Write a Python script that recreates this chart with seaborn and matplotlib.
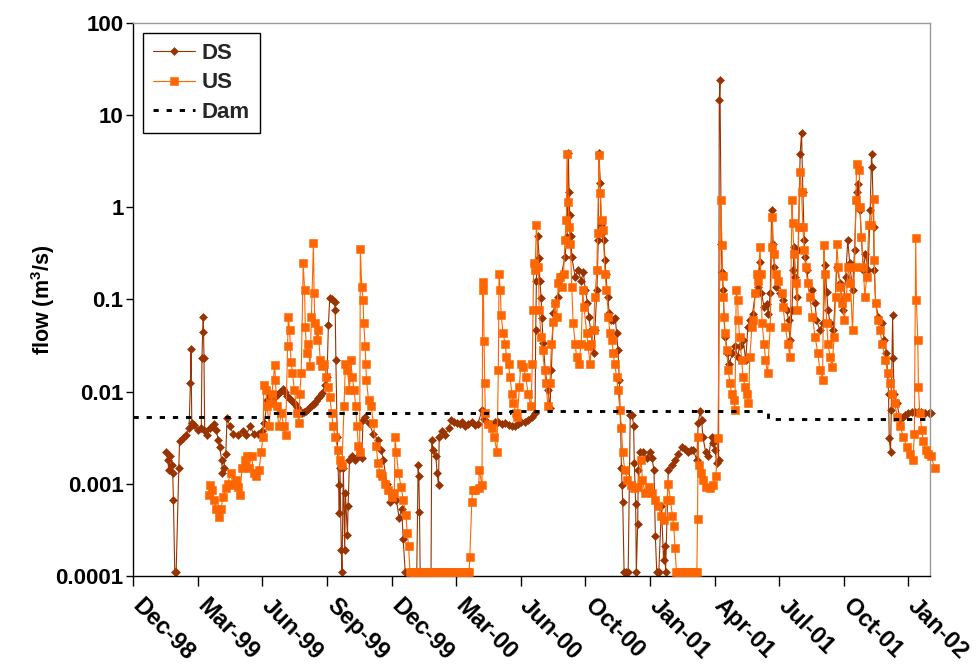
import pandas as pd
import matplotlib
matplotlib.use("Agg")
import matplotlib.pyplot as plt
import matplotlib.dates as mdates
from matplotlib.ticker import FixedLocator, FixedFormatter, NullLocator
from matplotlib.transforms import ScaledTranslation
import seaborn as sns

# ---- data -------------------------------------------------------------
# day offsets are counted from START; flows are in m3/s
START = pd.Timestamp("1998-12-07")
TICK_STEP_DAYS = 95
N_TICKS = 13
AXIS_END_DAY = 1172

DS_READINGS = [
    (48, 0.0022), (51, 0.0018), (52, 0.0014), (54, 0.0020), (57, 0.0016), (58, 0.0013), (59, 0.00067),
    (61, 0.00011), (63, 0.00011), (67, 0.0015), (68, 0.0029), (73, 0.0031), (78, 0.0034), (82, 0.0040),
    (84, 0.0125), (85, 0.029), (86, 0.0046), (90, 0.0043), (95, 0.0038), (100, 0.0040), (101, 0.023),
    (102, 0.044), (103, 0.065), (104, 0.023), (105, 0.0037), (108, 0.0034), (113, 0.0040), (118, 0.0045),
    (122, 0.0038), (125, 0.0030), (127, 0.0025), (130, 0.0018), (131, 0.0013), (133, 0.0015), (136, 0.0021),
    (138, 0.0052), (142, 0.0042), (147, 0.0035), (154, 0.0034), (161, 0.0037), (166, 0.0034), (172, 0.0042),
    (177, 0.0035), (183, 0.0035), (190, 0.0037), (193, 0.0046), (197, 0.0081), (201, 0.0092), (205, 0.0090),
    (209, 0.0087), (213, 0.0094), (216, 0.0099), (220, 0.0107), (223, 0.0098), (226, 0.0090), (229, 0.0085),
    (232, 0.0081), (235, 0.0077), (238, 0.0074), (241, 0.0068), (244, 0.0063), (248, 0.0059), (251, 0.0060),
    (254, 0.0062), (257, 0.0065), (260, 0.0068), (263, 0.0071), (266, 0.0074), (269, 0.0080), (272, 0.0085),
    (275, 0.0090), (278, 0.0096), (282, 0.0118), (285, 0.0145), (287, 0.053), (289, 0.103), (293, 0.101),
    (296, 0.094), (297, 0.077), (298, 0.022), (300, 0.0032), (302, 0.00097), (303, 0.00048), (304, 0.0015),
    (306, 0.00019), (307, 0.00011), (309, 0.0015), (311, 0.00019), (312, 0.00079), (315, 0.00028),
    (316, 0.00057), (318, 0.0018), (321, 0.0020), (326, 0.0018), (331, 0.0020), (336, 0.0019), (338, 0.0049),
    (341, 0.0053), (346, 0.0046), (353, 0.0035), (360, 0.0030), (365, 0.0023), (368, 0.0018), (373, 0.0010),
    (378, 0.00064), (382, 0.00072), (387, 0.00067), (391, 0.00043), (395, 0.00053), (397, 0.00025),
    (400, 0.00011), (404, 0.00011), (408, 0.00011), (413, 0.00011), (417, 0.00011), (419, 0.0016),
    (420, 0.0012), (421, 0.00050), (422, 0.00011), (426, 0.00011), (430, 0.00011), (435, 0.00011),
    (438, 0.00011), (439, 0.0030), (441, 0.0023), (445, 0.0020), (447, 0.0013), (449, 0.00097), (450, 0.0032),
    (454, 0.0037), (459, 0.0034), (464, 0.0040), (468, 0.0049), (472, 0.0047), (476, 0.0046), (480, 0.0045),
    (483, 0.0047), (488, 0.0042), (492, 0.0045), (498, 0.0047), (503, 0.0043), (507, 0.0045), (513, 0.0063),
    (516, 0.0051), (522, 0.0046), (528, 0.0043), (532, 0.0047), (537, 0.0047), (542, 0.0045), (547, 0.0046),
    (553, 0.0043), (557, 0.0042), (561, 0.0042), (566, 0.0045), (571, 0.0047), (576, 0.0047), (581, 0.0049),
    (586, 0.0053), (591, 0.0058), (592, 0.046), (593, 0.16), (595, 0.485), (597, 0.28), (598, 0.16),
    (600, 0.103), (601, 0.063), (603, 0.034), (606, 0.017), (610, 0.0103), (613, 0.0066), (615, 0.017),
    (618, 0.071), (620, 0.091), (625, 0.106), (630, 0.19), (635, 0.29), (638, 0.47), (640, 3.85), (641, 1.45),
    (642, 0.82), (644, 0.485), (645, 0.29), (650, 0.174), (654, 0.21), (659, 0.16), (662, 0.20), (665, 0.126),
    (668, 0.091), (670, 0.064), (673, 0.046), (677, 0.026), (679, 0.046), (682, 0.126), (684, 0.44),
    (685, 3.85), (687, 1.82), (688, 0.64), (690, 0.52), (692, 0.44), (694, 0.27), (695, 0.19), (698, 0.106),
    (700, 0.071), (703, 0.060), (706, 0.060), (709, 0.063), (711, 0.043), (713, 0.028), (715, 0.0135),
    (716, 0.0063), (717, 0.0041), (718, 0.0015), (719, 0.00097), (720, 0.00063), (722, 0.00011),
    (725, 0.00011), (728, 0.00011), (731, 0.0056), (734, 0.0056), (736, 0.0042), (737, 0.0017), (739, 0.00060),
    (740, 0.00011), (742, 0.00037), (743, 0.0014), (745, 0.0022), (750, 0.0022), (755, 0.0019), (760, 0.0022),
    (763, 0.0019), (766, 0.0014), (768, 0.00027), (770, 0.00011), (773, 0.00011), (777, 0.00057),
    (780, 0.00015), (782, 0.00021), (783, 0.00011), (787, 0.0014), (792, 0.0016), (797, 0.0018), (802, 0.0021),
    (807, 0.0025), (812, 0.0024), (816, 0.0022), (820, 0.0023), (824, 0.0023), (829, 0.0018), (831, 0.0046),
    (834, 0.0061), (836, 0.0049), (838, 0.0032), (842, 0.0022), (846, 0.0020), (851, 0.0032), (853, 0.0028),
    (856, 0.0023), (858, 0.0017), (861, 0.0018), (862, 14.4), (863, 23.8), (865, 0.40), (866, 0.20),
    (868, 0.126), (869, 0.065), (871, 0.039), (874, 0.026), (877, 0.020), (881, 0.026), (885, 0.031),
    (889, 0.024), (892, 0.031), (897, 0.036), (901, 0.022), (904, 0.050), (907, 0.060), (911, 0.070),
    (915, 0.116), (919, 0.137), (922, 0.255), (924, 0.116), (928, 0.083), (932, 0.090), (934, 0.070),
    (937, 0.116), (939, 0.93), (941, 0.40), (943, 0.225), (946, 0.137), (951, 0.116), (956, 0.098),
    (961, 0.077), (964, 0.060), (966, 0.036), (969, 0.077), (971, 0.21), (972, 0.37), (974, 0.176),
    (976, 0.107), (978, 0.34), (981, 3.8), (983, 6.3), (985, 1.47), (987, 0.44), (988, 0.29), (991, 0.21),
    (993, 0.15), (998, 0.126), (1003, 0.091), (1005, 0.060), (1010, 0.046), (1015, 0.055), (1018, 0.235),
    (1020, 0.12), (1022, 0.077), (1025, 0.055), (1030, 0.046), (1035, 0.225), (1040, 0.15), (1042, 0.098),
    (1044, 0.077), (1048, 0.176), (1051, 0.44), (1054, 0.245), (1058, 0.126), (1061, 0.34), (1064, 1.47),
    (1066, 1.8), (1069, 0.93), (1071, 0.48), (1074, 0.21), (1077, 0.31), (1081, 0.21), (1084, 0.93),
    (1086, 3.8), (1087, 2.7), (1089, 0.61), (1090, 0.21), (1092, 0.091), (1096, 0.065), (1101, 0.055),
    (1105, 0.036), (1108, 0.026), (1111, 0.0095), (1112, 0.0031), (1114, 0.0022), (1115, 0.0063),
    (1117, 0.068), (1118, 0.023), (1119, 0.0095), (1123, 0.0075), (1128, 0.0051), (1132, 0.0053),
    (1135, 0.0056), (1140, 0.0059), (1145, 0.0060), (1150, 0.0060), (1155, 0.0060), (1159, 0.0060),
    (1165, 0.0058), (1170, 0.0058), (1174, 0.0058),
]

US_READINGS = [
    (111, 0.00076), (113, 0.00097), (116, 0.00085), (119, 0.00067), (122, 0.00053), (126, 0.00044),
    (129, 0.00053), (132, 0.00072), (136, 0.00089), (139, 0.0010), (143, 0.0013), (147, 0.00097),
    (151, 0.0011), (154, 0.00093), (157, 0.00076), (160, 0.0015), (164, 0.0018), (167, 0.0020), (170, 0.0015),
    (174, 0.0020), (177, 0.0013), (181, 0.0012), (185, 0.0014), (188, 0.0022), (191, 0.0032), (192, 0.0118),
    (195, 0.0103), (197, 0.0069), (200, 0.0042), (202, 0.0075), (204, 0.0095), (208, 0.0194), (209, 0.0135),
    (211, 0.0069), (214, 0.0042), (218, 0.0058), (221, 0.0042), (224, 0.0034), (227, 0.031), (228, 0.065),
    (230, 0.046), (232, 0.021), (234, 0.016), (237, 0.0103), (241, 0.0058), (244, 0.0046), (245, 0.0095),
    (247, 0.016), (250, 0.245), (252, 0.126), (253, 0.050), (255, 0.026), (257, 0.033), (260, 0.019),
    (262, 0.065), (265, 0.41), (266, 0.116), (267, 0.055), (270, 0.036), (272, 0.046), (275, 0.022),
    (277, 0.019), (281, 0.020), (284, 0.0145), (287, 0.0112), (289, 0.0088), (292, 0.0058), (294, 0.0042),
    (297, 0.0032), (301, 0.0023), (304, 0.0018), (307, 0.0016), (310, 0.0069), (312, 0.020), (315, 0.017),
    (318, 0.0103), (320, 0.022), (322, 0.0145), (325, 0.0103), (327, 0.0069), (329, 0.0042), (331, 0.0026),
    (333, 0.0022), (334, 0.35), (336, 0.137), (338, 0.098), (339, 0.055), (341, 0.031), (342, 0.020),
    (343, 0.0135), (346, 0.0081), (350, 0.0069), (353, 0.0046), (357, 0.0026), (360, 0.0017), (363, 0.0013),
    (366, 0.0012), (370, 0.0010), (375, 0.00085), (380, 0.00072), (384, 0.00079), (385, 0.0032), (387, 0.0022),
    (390, 0.0013), (394, 0.00093), (397, 0.00067), (401, 0.00046), (403, 0.00029), (405, 0.00021),
    (407, 0.00011), (411, 0.00011), (415, 0.00011), (419, 0.00011), (423, 0.00011), (427, 0.00011),
    (431, 0.00011), (435, 0.00011), (439, 0.00011), (443, 0.00011), (447, 0.00011), (451, 0.00011),
    (455, 0.00011), (459, 0.00011), (463, 0.00011), (467, 0.00011), (471, 0.00011), (475, 0.00011),
    (479, 0.00011), (483, 0.00011), (487, 0.00011), (491, 0.00011), (494, 0.00011), (495, 0.00016),
    (498, 0.00064), (499, 0.00085), (503, 0.00085), (508, 0.00089), (509, 0.0014), (513, 0.00097),
    (514, 0.155), (515, 0.126), (516, 0.035), (517, 0.0123), (518, 0.0058), (522, 0.0044), (527, 0.0040),
    (531, 0.0032), (535, 0.0022), (537, 0.017), (538, 0.19), (540, 0.126), (541, 0.068), (544, 0.043),
    (547, 0.033), (549, 0.024), (552, 0.020), (554, 0.0145), (557, 0.0095), (559, 0.0075), (563, 0.0058),
    (565, 0.0053), (568, 0.0112), (570, 0.020), (574, 0.0185), (577, 0.0145), (581, 0.0095), (585, 0.0069),
    (587, 0.020), (588, 0.077), (589, 0.245), (591, 0.21), (593, 0.64), (596, 0.225), (597, 0.077),
    (600, 0.039), (602, 0.028), (605, 0.017), (607, 0.0123), (610, 0.0069), (613, 0.0123), (615, 0.033),
    (618, 0.057), (620, 0.091), (623, 0.065), (625, 0.15), (628, 0.176), (630, 0.137), (633, 0.19),
    (635, 0.44), (637, 0.72), (638, 3.8), (640, 1.14), (641, 0.61), (643, 0.40), (645, 0.137), (647, 0.055),
    (650, 0.033), (652, 0.024), (655, 0.020), (659, 0.033), (661, 0.126), (663, 0.083), (667, 0.043),
    (669, 0.031), (672, 0.020), (674, 0.033), (677, 0.046), (679, 0.107), (682, 0.21), (683, 0.52),
    (685, 3.66), (687, 1.41), (689, 0.72), (691, 0.56), (694, 0.19), (696, 0.126), (699, 0.065), (701, 0.043),
    (704, 0.036), (706, 0.026), (708, 0.020), (711, 0.0145), (713, 0.0103), (716, 0.0063), (718, 0.0040),
    (720, 0.0022), (723, 0.0014), (727, 0.0011), (732, 0.00097), (736, 0.00089), (742, 0.00093),
    (747, 0.0018), (749, 0.0011), (753, 0.00079), (758, 0.00093), (763, 0.00079), (767, 0.00067),
    (772, 0.00057), (777, 0.00045), (781, 0.00040), (785, 0.00067), (787, 0.0010), (790, 0.00067),
    (793, 0.00045), (795, 0.00035), (797, 0.0002), (799, 0.00011), (803, 0.00011), (807, 0.00011),
    (811, 0.00011), (815, 0.00011), (819, 0.00011), (823, 0.00011), (827, 0.00011), (829, 0.00011),
    (830, 0.00041), (831, 0.0032), (832, 0.0016), (835, 0.0013), (838, 0.0011), (843, 0.00093),
    (848, 0.00089), (853, 0.00097), (857, 0.0012), (860, 0.0031), (864, 1.19), (866, 0.39), (867, 0.18),
    (868, 0.107), (869, 0.065), (870, 0.043), (873, 0.028), (875, 0.017), (878, 0.0123), (880, 0.0095),
    (883, 0.0081), (885, 0.0063), (887, 0.126), (889, 0.098), (890, 0.060), (892, 0.039), (895, 0.022),
    (897, 0.0145), (900, 0.0112), (903, 0.0095), (905, 0.0075), (907, 0.024), (910, 0.050), (912, 0.060),
    (915, 0.116), (917, 0.19), (919, 0.16), (922, 0.37), (923, 0.19), (925, 0.055), (928, 0.033),
    (930, 0.022), (933, 0.016), (937, 0.050), (939, 0.37), (940, 0.79), (942, 0.31), (945, 0.19),
    (949, 0.16), (954, 0.116), (956, 0.083), (959, 0.050), (963, 0.033), (966, 0.024), (969, 1.19),
    (970, 0.67), (972, 0.31), (975, 0.15), (977, 0.077), (979, 0.61), (981, 2.4), (983, 1.47), (985, 0.61),
    (987, 0.34), (989, 0.225), (992, 0.15), (995, 0.107), (999, 0.065), (1003, 0.039), (1007, 0.026),
    (1010, 0.017), (1014, 0.0135), (1016, 0.39), (1017, 0.19), (1020, 0.055), (1022, 0.033), (1025, 0.024),
    (1028, 0.0185), (1031, 0.039), (1033, 0.107), (1035, 0.40), (1037, 0.225), (1040, 0.137), (1043, 0.091),
    (1046, 0.060), (1049, 0.107), (1052, 0.225), (1055, 0.15), (1058, 0.046), (1061, 0.225), (1063, 1.19),
    (1064, 2.97), (1068, 2.5), (1069, 1.0), (1071, 0.48), (1074, 0.225), (1076, 0.107), (1079, 0.176),
    (1082, 0.64), (1085, 0.64), (1089, 1.24), (1090, 0.27), (1092, 0.091), (1095, 0.060), (1098, 0.046),
    (1102, 0.033), (1106, 0.022), (1110, 0.016), (1113, 0.0123), (1116, 0.0095), (1120, 0.0075),
    (1124, 0.0053), (1128, 0.0042), (1133, 0.0032), (1138, 0.0025), (1143, 0.0021), (1147, 0.0018),
    (1149, 0.0035), (1151, 0.465), (1152, 0.098), (1154, 0.036), (1155, 0.0112), (1157, 0.0058),
    (1160, 0.0038), (1162, 0.0029), (1166, 0.0023), (1169, 0.0021), (1173, 0.0020), (1179, 0.0015),
]

# dam release is a stepped series: each value holds until the next change
DAM_STEPS = [(0, 0.0053), (205, 0.0058), (554, 0.0061), (934, 0.0050), (1172, 0.0050)]

Y_TICKS = [0.0001, 0.001, 0.01, 0.1, 1, 10, 100]
Y_TICK_LABELS = ["0.0001", "0.001", "0.01", "0.1", "1", "10", "100"]

DS_COLOR = "#993300"
US_COLOR = "#FF6600"


def to_frame(readings):
    df = pd.DataFrame(readings, columns=["day", "flow"])
    df["date"] = START + pd.to_timedelta(df["day"], unit="D")
    return df


ds = to_frame(DS_READINGS)
us = to_frame(US_READINGS)
dam = to_frame(DAM_STEPS)

# ---- style ------------------------------------------------------------
sns.set_theme(style="ticks")
plt.rcParams["font.family"] = ["Liberation Sans", "DejaVu Sans"]
plt.rcParams["font.weight"] = "bold"
plt.rcParams["mathtext.fontset"] = "custom"
plt.rcParams["mathtext.rm"] = "Liberation Sans:bold"
plt.rcParams["mathtext.it"] = "Liberation Sans:bold"
plt.rcParams["mathtext.bf"] = "Liberation Sans:bold"

W, H = 976, 666
fig = plt.figure(figsize=(W / 100, H / 100), dpi=100)
fig.patch.set_facecolor("white")
left, right, top, bottom = 133.3, 930.0, 22.7, 576.0
ax = fig.add_axes([left / W, 1 - bottom / H, (right - left) / W, (bottom - top) / H])
ax.set_facecolor("white")

sns.lineplot(data=ds, x="date", y="flow", ax=ax, estimator=None, sort=False,
             color=DS_COLOR, linewidth=0.8, marker="D", markersize=4.3,
             markeredgecolor=DS_COLOR, markeredgewidth=0.4, label="DS",
             clip_on=False, zorder=2)
sns.lineplot(data=us, x="date", y="flow", ax=ax, estimator=None, sort=False,
             color=US_COLOR, linewidth=0.8, marker="s", markersize=5.2,
             markeredgecolor=US_COLOR, markeredgewidth=0.4, label="US",
             clip_on=False, zorder=3)
sns.lineplot(data=dam, x="date", y="flow", ax=ax, estimator=None, sort=False,
             color="black", linewidth=2.1, linestyle=(0, (1.8, 2.7)),
             drawstyle="steps-post", label="Dam", zorder=4)

# ---- axes -------------------------------------------------------------
ax.set_yscale("log")
ax.set_ylim(1e-4, 100)
ax.yaxis.set_major_locator(FixedLocator(Y_TICKS))
ax.yaxis.set_major_formatter(FixedFormatter(Y_TICK_LABELS))
ax.yaxis.set_minor_locator(NullLocator())

tick_dates = [START + pd.Timedelta(days=k * TICK_STEP_DAYS) for k in range(N_TICKS)]
ax.set_xlim(START, START + pd.Timedelta(days=AXIS_END_DAY))
ax.xaxis.set_major_locator(FixedLocator(mdates.date2num(tick_dates)))
ax.xaxis.set_major_formatter(mdates.DateFormatter("%b-%y"))
ax.xaxis.set_minor_locator(NullLocator())

ax.tick_params(axis="y", which="major", direction="out", length=5, width=1,
               color="black", labelsize=16, labelcolor="black", pad=2, left=True)
ax.tick_params(axis="x", which="major", direction="out", length=7, width=1,
               color="black", labelsize=17, labelcolor="black", pad=6, bottom=True)
shift = ScaledTranslation(11 / 100, 0, fig.dpi_scale_trans)
for lab in ax.get_xticklabels():
    lab.set_rotation(-45)
    lab.set_ha("left")
    lab.set_va("top")
    lab.set_rotation_mode("anchor")
    lab.set_fontweight("bold")
    lab.set_transform(lab.get_transform() + shift)
for lab in ax.get_yticklabels():
    lab.set_fontweight("bold")

for side in ("left", "bottom"):
    ax.spines[side].set_color("black")
    ax.spines[side].set_linewidth(1.0)
for side in ("top", "right"):
    ax.spines[side].set_visible(True)
    ax.spines[side].set_color("#9a9a9a")
    ax.spines[side].set_linewidth(1.0)

ax.set_xlabel("")
ax.set_ylabel(r"flow (m$^{3}$/s)", fontsize=15.5, fontweight="bold", color="black")
ax.yaxis.set_label_coords((57 - left) / (right - left), 0.5)

handles, labels = ax.get_legend_handles_labels()
leg = ax.legend(handles, labels, loc="upper left",
                bbox_to_anchor=((143 - left) / (right - left), (bottom - 33) / (bottom - top)),
                borderaxespad=0, frameon=True, fancybox=False, shadow=False,
                edgecolor="black", facecolor="white", framealpha=1,
                prop={"size": 16, "weight": "bold"}, handlelength=1.9,
                handletextpad=0.3, borderpad=0.45, labelspacing=0.38, numpoints=1)
leg.get_frame().set_linewidth(1.0)

fig.savefig("out.png", dpi=100, facecolor="white")
